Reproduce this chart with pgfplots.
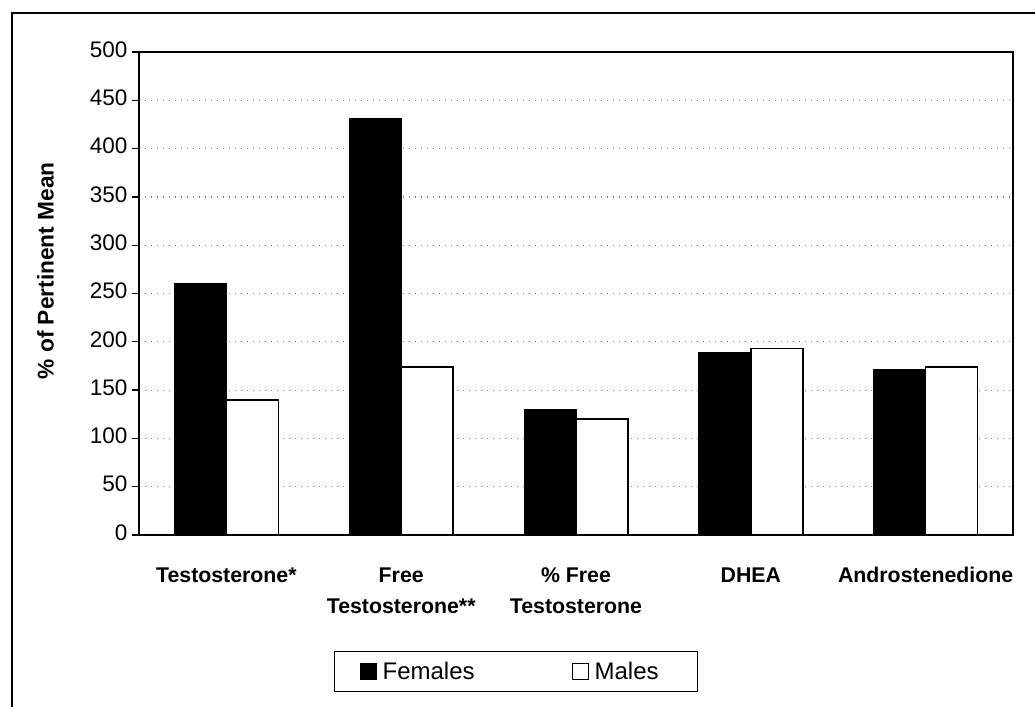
\documentclass[border=0pt]{standalone}
\usepackage{pgfplots}
\pgfplotsset{compat=1.18}
\usepackage{pgfplotstable}
\usepackage{fontspec}
\setmainfont{Liberation Sans}

% % of pertinent mean
\pgfplotstableread{
idx F M
0 260 140
1 431 174
2 130 120
3 189 193
4 171 174
}\hormones

\begin{document}
\begin{tikzpicture}[x=1bp,y=1bp]
\useasboundingbox (0,0) rectangle (1035,-707);
% chart frame, cut off at right and bottom
\draw[line width=2.5bp] (12,-720) -- (12,-13) -- (1050,-13);
\begin{axis}[
  at={(139bp,-535bp)}, anchor=south west,
  scale only axis, width=874bp, height=483bp,
  xmin=-0.5, xmax=4.5, ymin=0, ymax=500,
  ybar=0pt, bar width=52bp,
  ytick={0,50,...,500},
  xtick={0,...,4},
  xticklabels={Testosterone*, Free\\Testosterone**, \% Free\\Testosterone, DHEA, Androstenedione},
  typeset ticklabels with strut,
  xtick pos=bottom, ytick pos=left,
  tick align=outside,
  major tick length=7bp,
  xtick style={draw=none},
  ytick style={black, line width=1.3bp},
  axis line style={black, line width=1.5bp},
  ymajorgrids,
  grid style={gray, line width=1.2bp, dash pattern=on 1.2bp off 4.8bp},
  /pgf/number format/assume math mode=true,
  yticklabel style={font=\fontsize{22.5bp}{26bp}\selectfont, xshift=-1bp},
  xticklabel style={font=\bfseries\fontsize{21.3bp}{31bp}\selectfont, align=center, anchor=north, yshift=-15bp},
  ylabel={\% of Pertinent Mean},
  every axis y label/.style={font=\bfseries\fontsize{22.7bp}{26bp}\selectfont, at={(axis description cs:-0.107,0.547)}, anchor=center, rotate=90},
  legend columns=2,
  legend style={at={(axis description cs:0.2231,-0.2826)}, anchor=west,
    draw=black, line width=1.3bp, inner xsep=12bp, inner ysep=8.5bp,
    font=\fontsize{24bp}{28bp}\selectfont,
    /tikz/every even column/.append style={column sep=82bp}},
  legend image code/.code={\draw[#1, line width=1.3bp] (0bp,-8bp) rectangle (16bp,8bp);
    \path[draw=none, fill=none] (-14bp,0bp) -- (20bp,0bp);},
]
\addplot[fill=black, draw=black, line width=1bp] table[x=idx, y=F] {\hormones};
\addplot[fill=white, draw=black, line width=1.5bp] table[x=idx, y=M] {\hormones};
\legend{Females, Males\kern25bp}
\end{axis}
\end{tikzpicture}
\end{document}
